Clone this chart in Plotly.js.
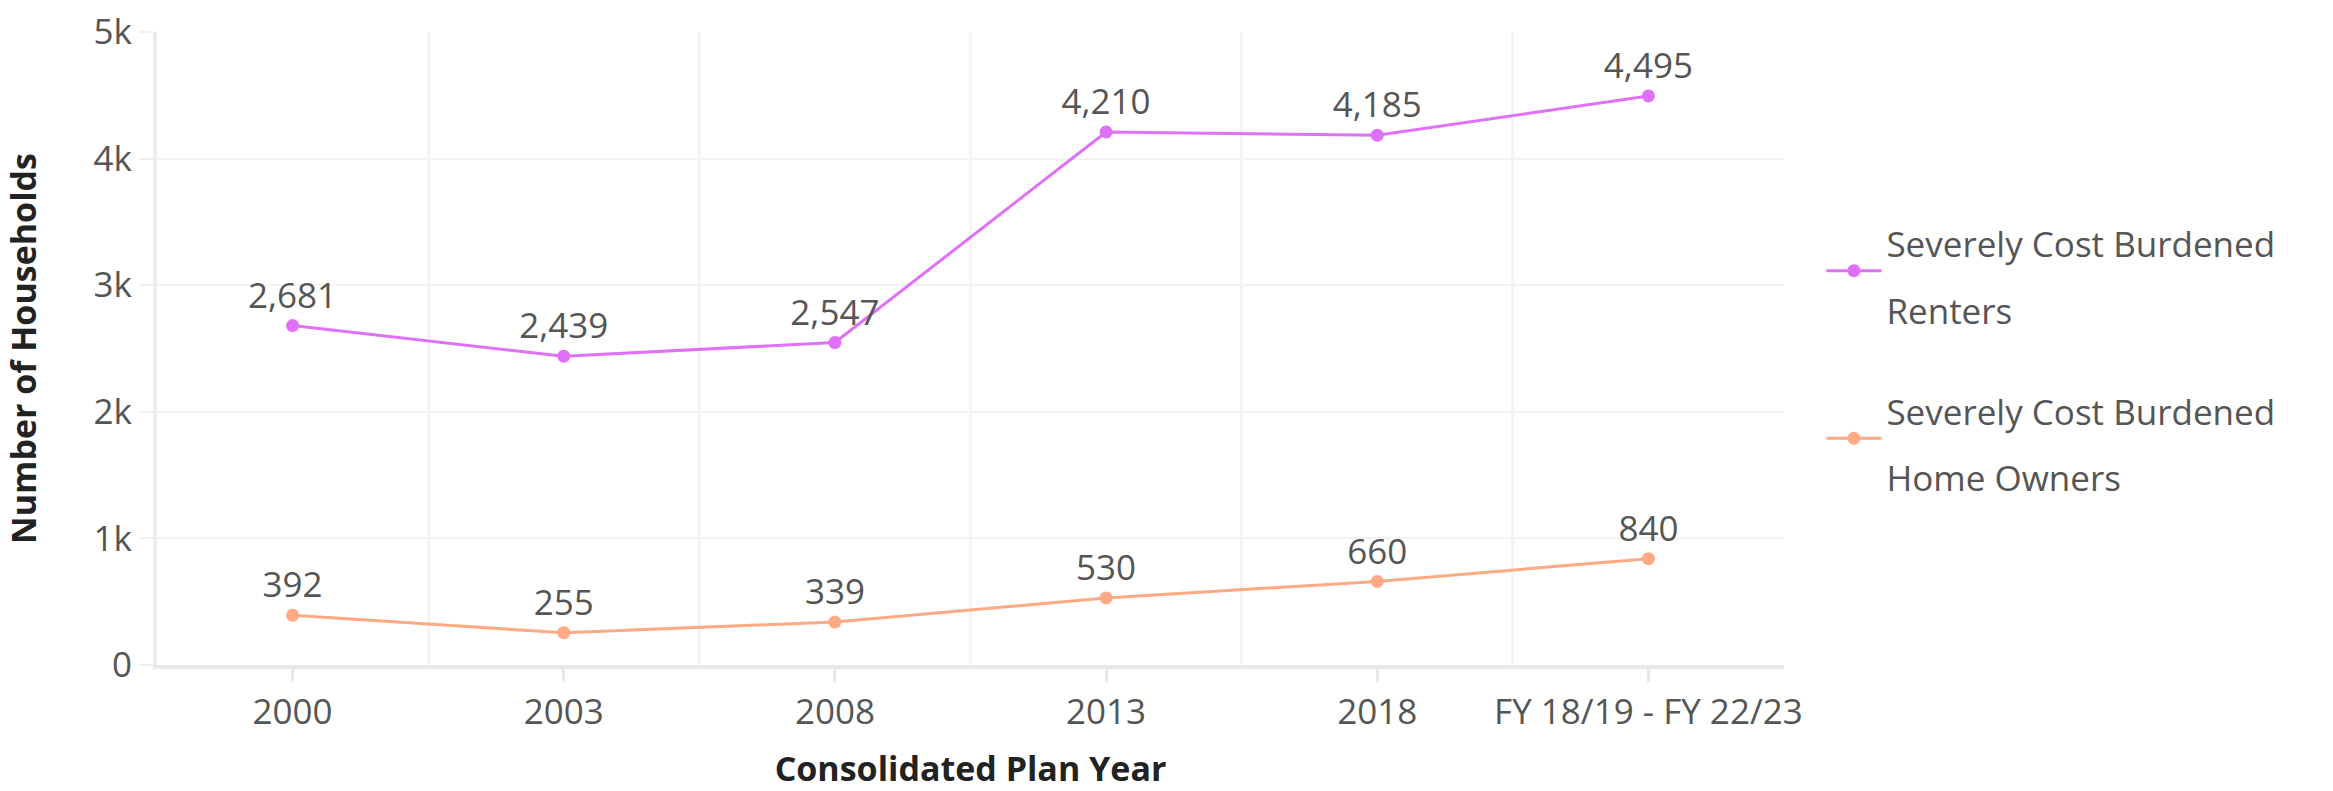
<!DOCTYPE html>
<html>
<head>
<meta charset="utf-8">
<script src="https://cdn.plot.ly/plotly-3.0.1.min.js"></script>
<style>html,body{margin:0;padding:0;background:#fff;}#chart{width:2333px;height:791px;}</style>
</head>
<body>
<div id="chart"></div>
<script>
const planYears = ["2000", "2003", "2008", "2013", "2018", "FY 18/19 - FY 22/23"];
const renters = [2681, 2439, 2547, 4210, 4185, 4495];
const homeOwners = [392, 255, 339, 530, 660, 840];
const seriesLines = [["Severely Cost Burdened", "Renters"], ["Severely Cost Burdened", "Home Owners"]];
const yTickVals = [0, 1000, 2000, 3000, 4000, 5000];

const FONT = "Open Sans, Noto Sans, sans-serif";
const textFont = {family: FONT, size: 35, color: "#555"};
const legendName = lines => lines.map(s => '<span style="font-size:35px">' + s + '</span>').join("<br>");

const traces = [
  {
    x: planYears, y: renters, name: legendName(seriesLines[0]), type: "scatter", mode: "lines+markers+text",
    line: {color: "#e070f8", width: 3}, marker: {color: "#e070f8", size: 13},
    texttemplate: "%{y:,}", textposition: "top center", textfont: textFont,
    legendgroup: "a", cliponaxis: false
  },
  {
    x: planYears, y: homeOwners, name: legendName(seriesLines[1]), type: "scatter", mode: "lines+markers+text",
    line: {color: "#ffa985", width: 3}, marker: {color: "#ffa985", size: 13},
    texttemplate: "%{y:,}", textposition: "top center", textfont: textFont,
    legendgroup: "b", cliponaxis: false
  },
  {
    x: planYears, y: renters, xaxis: "x2", type: "scatter", mode: "markers",
    marker: {opacity: 0}, showlegend: false, hoverinfo: "skip"
  }
];

const layout = {
  width: 2333, height: 791,
  margin: {l: 157, r: 549, t: 32, b: 126},
  paper_bgcolor: "#fff", plot_bgcolor: "#fff",
  font: {family: FONT, size: 35, color: "#555"},
  showlegend: true,
  legend: {
    x: 1.023, xanchor: "left", y: 0.49, yanchor: "middle",
    font: {family: FONT, size: 51, color: "#555"},
    tracegroupgap: 32, itemwidth: 55
  },
  xaxis: {
    type: "category", categoryarray: planYears, range: [-0.5, 5.5],
    showgrid: false, zeroline: false,
    showline: true, linecolor: "#e8e8e8", linewidth: 4,
    ticks: "outside", ticklen: 13, tickcolor: "#e8e8e8", tickwidth: 3,
    tickfont: {family: FONT, size: 35, color: "#555"},
    title: {text: "<b>Consolidated Plan Year</b>", font: {family: FONT, size: 34, color: "#222"}, standoff: 47}
  },
  xaxis2: {
    type: "category", categoryarray: planYears, range: [-0.5, 5.5],
    overlaying: "x", side: "bottom", tickson: "boundaries",
    showgrid: true, gridcolor: "#f4f4f4", gridwidth: 3,
    showticklabels: false, ticks: "", showline: false, zeroline: false
  },
  yaxis: {
    range: [0, 5000], tickvals: yTickVals, tickformat: "~s",
    showgrid: true, gridcolor: "#f3f3f3", gridwidth: 2,
    zeroline: false, showline: true, linecolor: "#ececec", linewidth: 4,
    ticks: "outside", ticklen: 14, tickcolor: "#f0f0f0", tickwidth: 2,
    tickfont: {family: FONT, size: 35, color: "#555"},
    title: {text: "<b>Number of Households</b>", font: {family: FONT, size: 34, color: "#222"}, standoff: 53}
  }
};

Plotly.newPlot("chart", traces, layout, {displayModeBar: false, staticPlot: true});
</script>
</body>
</html>
